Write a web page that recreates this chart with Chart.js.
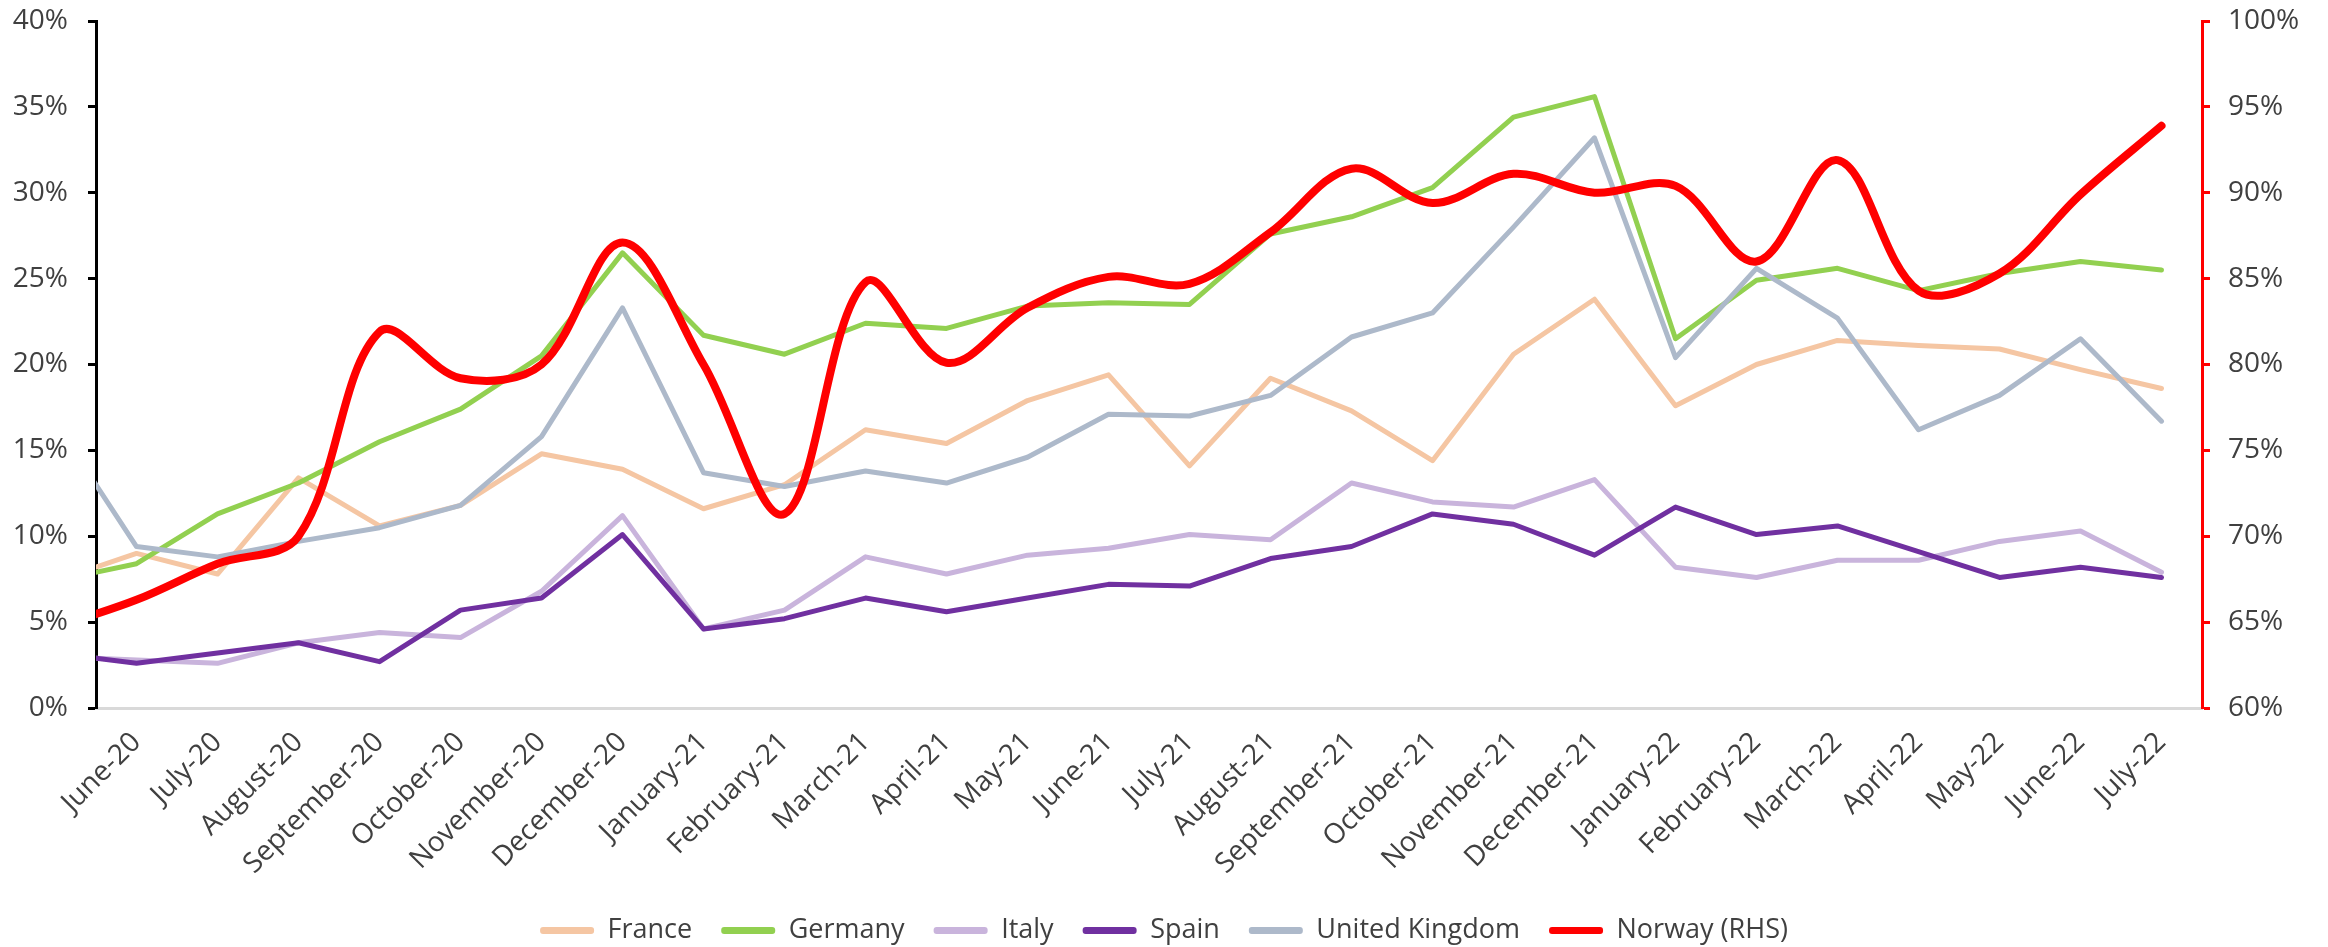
<!DOCTYPE html>
<html>
<head>
<meta charset="utf-8">
<script src="https://cdn.jsdelivr.net/npm/chart.js@4.4.1/dist/chart.umd.min.js"></script>
<style>
  html, body { margin: 0; padding: 0; background: #fff; }
  #wrap { width: 2328px; height: 947px; }
</style>
</head>
<body>
<div id="wrap"><canvas id="grafico"></canvas></div>
<script>
// May-20 sits just left of the axis, only its segment into June-20 shows
const months = [
  'May-20', 'June-20', 'July-20', 'August-20', 'September-20', 'October-20', 'November-20', 'December-20',
  'January-21', 'February-21', 'March-21', 'April-21', 'May-21', 'June-21', 'July-21',
  'August-21', 'September-21', 'October-21', 'November-21', 'December-21',
  'January-22', 'February-22', 'March-22', 'April-22', 'May-22', 'June-22', 'July-22'
];

const france  = [7.4, 9.0, 7.8, 13.4, 10.6, 11.8, 14.8, 13.9, 11.6, 13.0, 16.2, 15.4, 17.9, 19.4, 14.1, 19.2, 17.3, 14.4, 20.6, 23.8, 17.6, 20.0, 21.4, 21.1, 20.9, 19.7, 18.6];
const germany = [7.4, 8.4, 11.3, 13.1, 15.5, 17.4, 20.5, 26.5, 21.7, 20.6, 22.4, 22.1, 23.4, 23.6, 23.5, 27.6, 28.6, 30.3, 34.4, 35.6, 21.5, 24.9, 25.6, 24.3, 25.3, 26.0, 25.5];
const italy   = [3.0, 2.8, 2.6, 3.8, 4.4, 4.1, 6.8, 11.2, 4.6, 5.7, 8.8, 7.8, 8.9, 9.3, 10.1, 9.8, 13.1, 12.0, 11.7, 13.3, 8.2, 7.6, 8.6, 8.6, 9.7, 10.3, 7.9];
const spain   = [3.2, 2.6, 3.2, 3.8, 2.7, 5.7, 6.4, 10.1, 4.6, 5.2, 6.4, 5.6, 6.4, 7.2, 7.1, 8.7, 9.4, 11.3, 10.7, 8.9, 11.7, 10.1, 10.6, 9.1, 7.6, 8.2, 7.6];
const uk      = [16.6, 9.4, 8.8, 9.7, 10.5, 11.8, 15.8, 23.3, 13.7, 12.9, 13.8, 13.1, 14.6, 17.1, 17.0, 18.2, 21.6, 23.0, 28.0, 33.2, 20.4, 25.6, 22.7, 16.2, 18.2, 21.5, 16.7];
const norway  = [64.7, 66.3, 68.4, 70.0, 81.9, 79.2, 80.0, 87.1, 80.0, 71.3, 84.8, 80.1, 83.3, 85.1, 84.7, 87.7, 91.4, 89.4, 91.1, 90.0, 90.4, 86.0, 91.9, 84.3, 85.3, 89.9, 93.9];

const leftTicks  = [0, 5, 10, 15, 20, 25, 30, 35, 40];
const rightTicks = [60, 65, 70, 75, 80, 85, 90, 95, 100];

const textColor = '#404040';
const fontFamily = '"Open Sans", "Liberation Sans", sans-serif';

function points(values) {
  return values.map((v, i) => ({ x: i, y: v }));
}

function serie(label, values, color, width, axis, order, tension) {
  return {
    label: label,
    data: points(values),
    borderColor: color,
    backgroundColor: color,
    borderWidth: width,
    pointRadius: 0,
    pointHoverRadius: 0,
    tension: tension,
    yAxisID: axis,
    order: order,
    clip: 0,
    borderCapStyle: 'round',
    borderJoinStyle: 'round'
  };
}

// the tick padding would otherwise push the plot top down
function fitY(width) {
  return function (scale) {
    scale.width = width;
    scale.paddingTop = 0;
    scale.paddingBottom = 0;
  };
}

const ctx = document.getElementById('grafico').getContext('2d');

new Chart(ctx, {
  type: 'line',
  data: {
    datasets: [
      serie('France', france, '#F5C6A3', 5, 'y', 6, 0),
      serie('Germany', germany, '#92D050', 5, 'y', 5, 0),
      serie('Italy', italy, '#C9B4DC', 5, 'y', 4, 0),
      serie('Spain', spain, '#7030A0', 5, 'y', 3, 0),
      serie('United Kingdom', uk, '#ADB9CA', 5, 'y', 2, 0),
      serie('Norway (RHS)', norway, '#FF0000', 8, 'y2', 1, 0.35)
    ]
  },
  options: {
    responsive: true,
    maintainAspectRatio: false,
    devicePixelRatio: 1,
    animation: false,
    layout: { padding: { top: 21, left: 0, right: 0, bottom: -7 } },
    plugins: {
      tooltip: { enabled: false },
      legend: {
        position: 'bottom',
        labels: {
          color: textColor,
          font: { family: fontFamily, size: 27 },
          boxWidth: 54,
          boxHeight: 7,
          padding: 29,
          useBorderRadius: true,
          borderRadius: 3,
          sort: (a, b) => a.datasetIndex - b.datasetIndex,
          generateLabels: function (chart) {
            const items = Chart.defaults.plugins.legend.labels.generateLabels(chart);
            items.forEach(it => { it.lineWidth = 0; it.fillStyle = it.strokeStyle; });
            return items;
          }
        }
      }
    },
    scales: {
      x: {
        type: 'linear',
        min: 0.5,
        max: months.length - 0.5,
        grid: { display: false },
        border: { display: true, color: '#D9D9D9', width: 3 },
        afterBuildTicks: function (scale) {
          scale.ticks = months.slice(1).map((m, i) => ({ value: i + 1 }));
        },
        afterFit: function (scale) { scale.height = 180; },
        ticks: {
          autoSkip: false,
          minRotation: 45,
          maxRotation: 45,
          padding: 10,
          color: textColor,
          font: { family: fontFamily, size: 28 },
          callback: function (value) { return months[value] || ''; }
        }
      },
      y: {
        position: 'left',
        min: 0,
        max: 40,
        afterBuildTicks: function (scale) { scale.ticks = leftTicks.map(v => ({ value: v })); },
        afterFit: fitY(96),
        grid: { drawOnChartArea: false, drawTicks: true, tickLength: 8, tickWidth: 3, color: '#000' },
        border: { display: true, color: '#000', width: 3 },
        ticks: {
          padding: 20,
          color: textColor,
          font: { family: fontFamily, size: 28 },
          callback: v => v + '%'
        }
      },
      y2: {
        position: 'right',
        min: 60,
        max: 100,
        afterBuildTicks: function (scale) { scale.ticks = rightTicks.map(v => ({ value: v })); },
        afterFit: fitY(126),
        grid: { drawOnChartArea: false, drawTicks: true, tickLength: 8, tickWidth: 3, color: '#FF0000' },
        border: { display: true, color: '#FF0000', width: 3 },
        ticks: {
          padding: 18,
          color: textColor,
          font: { family: fontFamily, size: 28 },
          callback: v => v + '%'
        }
      }
    }
  }
});
</script>
</body>
</html>
